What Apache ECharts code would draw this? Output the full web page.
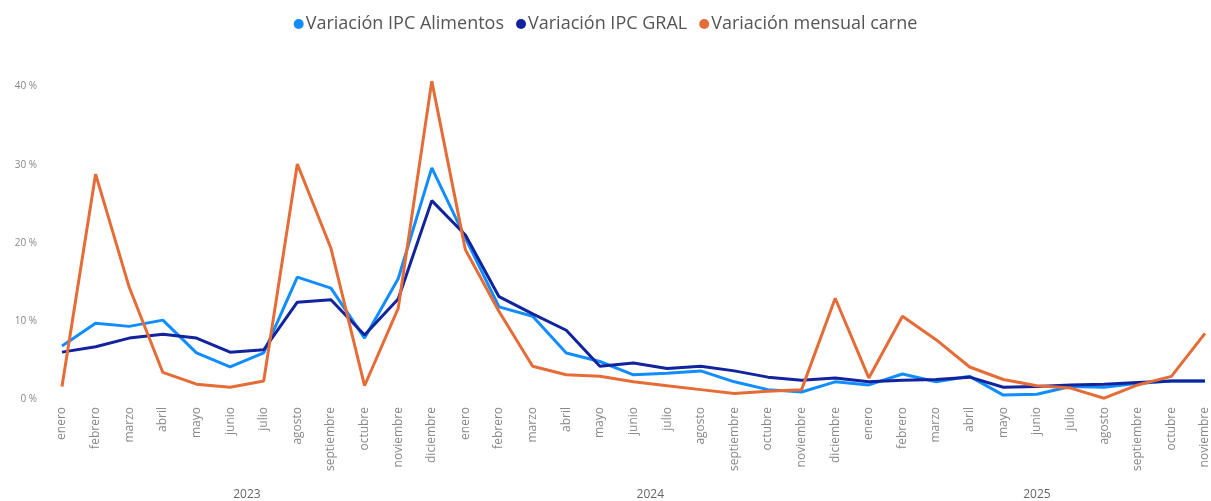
<!DOCTYPE html>
<html>
<head>
<meta charset="utf-8">
<script src="https://cdn.jsdelivr.net/npm/echarts@6/dist/echarts.min.js"></script>
<style>
  html, body { margin: 0; padding: 0; background: #fff; }
  #chart { width: 1211px; height: 501px; }
</style>
</head>
<body>
<div id="chart"></div>
<script>
var meses = ['enero', 'febrero', 'marzo', 'abril', 'mayo', 'junio', 'julio', 'agosto',
  'septiembre', 'octubre', 'noviembre', 'diciembre']
var categorias = meses.concat(meses, meses.slice(0, 11))

// años: posición central (índice de categoría) y etiqueta
var anioPos = [5.5, 17.5, 29]
var anioLabels = ['2023', '2024', '2025']

var ipcAlimentos = [6.8, 9.7, 9.3, 10.1, 5.9, 4.1, 5.9, 15.6, 14.2, 7.8, 15.4, 29.6,
  20.6, 11.8, 10.6, 5.9, 4.8, 3.1, 3.3, 3.6, 2.2, 1.2, 0.9, 2.2,
  1.8, 3.2, 2.2, 2.9, 0.5, 0.6, 1.6, 1.5, 2.0, 2.3, 2.3]
var ipcGral = [6.0, 6.7, 7.8, 8.3, 7.8, 6.0, 6.3, 12.4, 12.7, 8.2, 12.8, 25.4,
  21.0, 13.1, 10.9, 8.8, 4.2, 4.6, 3.9, 4.2, 3.6, 2.8, 2.4, 2.7,
  2.2, 2.4, 2.5, 2.8, 1.5, 1.6, 1.8, 1.9, 2.1, 2.3, 2.3]
var carne = [1.6, 28.8, 14.3, 3.4, 1.9, 1.5, 2.3, 30.1, 19.3, 1.7, 11.6, 40.7,
  19.1, 11.2, 4.2, 3.1, 2.9, 2.2, 1.7, 1.2, 0.7, 1.0, 1.2, 12.9,
  2.7, 10.6, 7.6, 4.1, 2.5, 1.7, 1.4, 0.1, 1.8, 2.9, 8.4]

var myChart = echarts.init(document.getElementById('chart'))
var fuente = '"Open Sans", "Noto Sans", sans-serif'

myChart.setOption({
  backgroundColor: '#fff',
  color: ['#118DFF', '#12239E', '#E66C37'],
  legend: {
    top: 10,
    left: 'center',
    icon: 'circle',
    itemWidth: 10,
    itemHeight: 10,
    itemGap: 12,
    textStyle: { color: '#555', fontSize: 18, fontFamily: fuente, padding: [0, 0, 0, -3] }
  },
  grid: { left: 62, right: 1, top: 71, bottom: 102 },
  xAxis: [{
    type: 'category',
    data: categorias,
    boundaryGap: false,
    axisLine: { show: false },
    axisTick: { show: false },
    axisLabel: {
      rotate: 90,
      interval: 0,
      margin: 8,
      color: '#888',
      fontSize: 12,
      fontFamily: fuente
    }
  }, {
    type: 'value',
    position: 'bottom',
    min: 0,
    max: categorias.length - 1,
    axisLine: { show: false },
    axisTick: { show: false },
    splitLine: { show: false },
    axisLabel: {
      customValues: anioPos,
      margin: 90,
      color: '#666',
      fontSize: 12,
      fontFamily: fuente,
      formatter: function (v) {
        var i = anioPos.indexOf(v)
        return i >= 0 ? anioLabels[i] : ''
      }
    }
  }],
  yAxis: {
    type: 'value',
    min: 0,
    max: 42,
    interval: 10,
    splitLine: { show: false },
    axisLine: { show: false },
    axisTick: { show: false },
    axisLabel: {
      margin: 25,
      color: '#888',
      fontSize: 10,
      fontFamily: fuente,
      showMaxLabel: false,
      formatter: function (v) { return v + ' %' }
    }
  },
  series: [{
    name: 'Variación IPC Alimentos',
    type: 'line',
    data: ipcAlimentos,
    showSymbol: false,
    lineStyle: { width: 3 }
  }, {
    name: 'Variación IPC GRAL',
    type: 'line',
    data: ipcGral,
    showSymbol: false,
    lineStyle: { width: 3 }
  }, {
    name: 'Variación mensual carne',
    type: 'line',
    data: carne,
    showSymbol: false,
    lineStyle: { width: 3 }
  }]
})
</script>
</body>
</html>
